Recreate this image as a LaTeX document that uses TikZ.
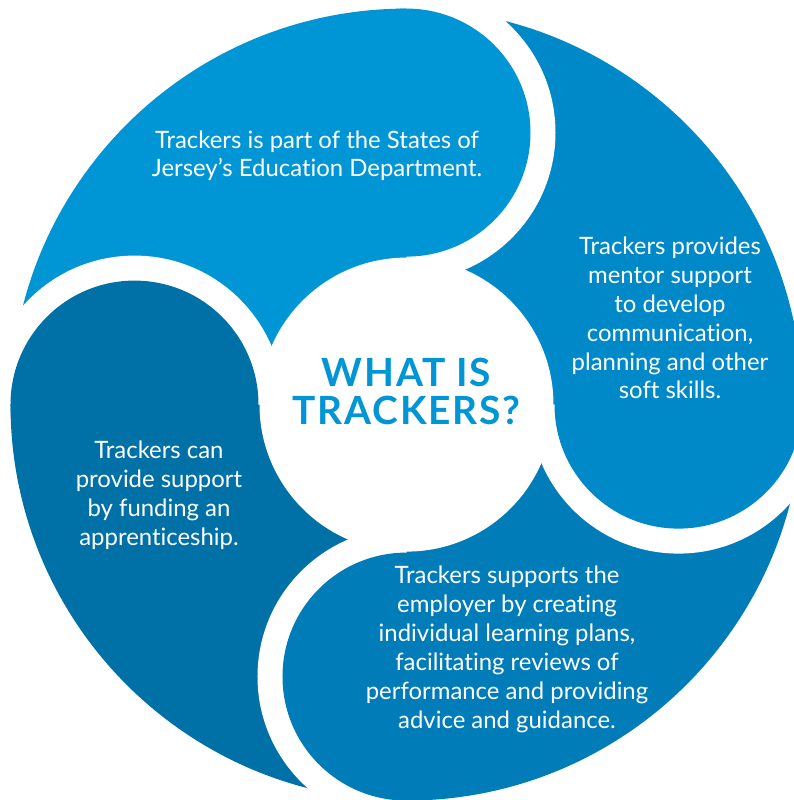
\documentclass[tikz,border=0pt]{standalone}
\usepackage{fontspec}
\setmainfont{Lato}[Ligatures={NoCommon,NoRare}]
\newfontfamily\titlefont[LetterSpace=4.5]{Lato}
\definecolor{segA}{HTML}{0096D6}
\definecolor{segB}{HTML}{0089C8}
\definecolor{segC}{HTML}{007DB8}
\definecolor{segD}{HTML}{0071A7}
\definecolor{titleblue}{HTML}{0096D6}
\begin{document}
\begin{tikzpicture}[x=1bp,y=1bp,
  body/.style={text=white, align=center, inner sep=0pt, anchor=base, font=\fontsize{24}{29}\selectfont},
  titlestyle/.style={text=titleblue, align=center, inner sep=0pt, anchor=base, font=\titlefont\bfseries\fontsize{39}{39}\selectfont}]
\useasboundingbox (-406.5,-395.4) rectangle (387.5,404.6);
\clip (-406.5,-395.4) rectangle (387.5,404.6);
\def\R{396}\def\D{272}\def\A{124}\def\G{149}\def\C{147}
% quadrant sectors (tails)
\foreach \ang/\col in {90/segA,0/segB,270/segC,180/segD}{
  \fill[\col] (0,0) -- (\ang:\R) arc[start angle=\ang, end angle=\ang+90, radius=\R] -- cycle;
}
% white centre
\fill[white] (0,0) circle[radius=\C];
% white gaps around each head, on its clockwise side
\foreach \ang in {90,0,270,180}{
  \begin{scope}
    \clip (0,0) -- ({\ang-90}:450) -- ({\ang-45}:640) -- (\ang:450) -- cycle;
    \fill[white] (\ang:\D) circle[radius=\G];
  \end{scope}
}
% heads
\foreach \ang/\col in {90/segA,0/segB,270/segC,180/segD}{
  \fill[\col] (\ang:\D) circle[radius=\A];
}
% anchor=base is the baseline of the last line
\node[titlestyle] (title) at (0,-20.4) {WHAT IS\\TRACKERS?};
\node[body] (top) at (-89.5,227.6) {Trackers is part of the States of\\Jersey’s Education Department.};
\node[body] (right) at (263.5,5.6) {Trackers provides\\mentor support\\to develop\\communication,\\planning and other\\soft skills.};
\node[body] (left) at (-247.5,-140.4) {Trackers can\\provide support\\by funding an\\apprenticeship.};
\node[body] (bottom) at (100.5,-323.4) {Trackers supports the\\employer by creating\\individual learning plans,\\facilitating reviews of\\performance and providing\\advice and guidance.};
\end{tikzpicture}
\end{document}
